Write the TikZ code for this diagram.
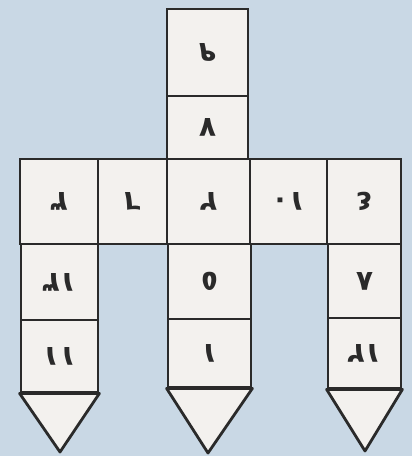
\documentclass[tikz,border=0pt]{standalone}
\usepackage{fontspec}
\usepackage{graphicx}
\newfontfamily\digitfont[Script=Arabic]{DejaVu Sans}
\definecolor{paperblue}{HTML}{C9D8E5}
\definecolor{cellwhite}{HTML}{F3F1EE}
\definecolor{inkgray}{HTML}{2A2A2A}
\tikzset{
  gridcell/.style={draw=inkgray, fill=cellwhite, line width=2.1pt, inner sep=0pt,
    font=\digitfont\bfseries\fontsize{21}{24}\selectfont, text=inkgray},
  tipshape/.style={draw=inkgray, fill=cellwhite, line width=2.1pt, line join=round}
}
\newcommand\cellbox[6]{%
  \node[gridcell, minimum width={(#4-#2)*0.75pt}, minimum height={(#5-#3)*0.75pt}]
    (#1) at ({(#2+#4)/2},{(#3+#5)/2}) {\rotatebox{180}{#6}};}
\begin{document}
\begin{tikzpicture}[x=0.75pt,y=-0.75pt]
\fill[paperblue] (0,0) rectangle (412,456);
\useasboundingbox (0,0) rectangle (412,456);
% top column
\cellbox{t1}{167}{9}{248}{96}{٩}
\cellbox{t2}{167}{96}{248}{159}{٧}
% main row
\cellbox{r1}{20}{159}{98}{244}{٣}
\cellbox{r2}{98}{159}{167}{244}{٦}
\cellbox{r3}{167}{159}{250}{244}{٢}
\cellbox{r4}{250}{159}{327}{244}{١٠}
\cellbox{r5}{327}{159}{401}{244}{٤}
% left column
\cellbox{l1}{21}{244}{98}{320}{١٣}
\cellbox{l2}{21}{320}{98}{392}{١١}
% middle column
\cellbox{m1}{168}{244}{251}{319}{٥}
\cellbox{m2}{168}{319}{251}{387}{١}
% right column
\cellbox{q1}{328}{244}{401}{318}{٨}
\cellbox{q2}{328}{318}{401}{388}{١٢}
% pencil tips
\coordinate (lapex) at (60,452);
\coordinate (mapex) at (208,453);
\coordinate (qapex) at (365,451);
\draw[tipshape] (l2.south west) -- (lapex) -- (l2.south east) -- cycle;
\draw[tipshape] (m2.south west) -- (mapex) -- (m2.south east) -- cycle;
\draw[tipshape] (q2.south west) -- (qapex) -- (q2.south east) -- cycle;
\end{tikzpicture}
\end{document}
